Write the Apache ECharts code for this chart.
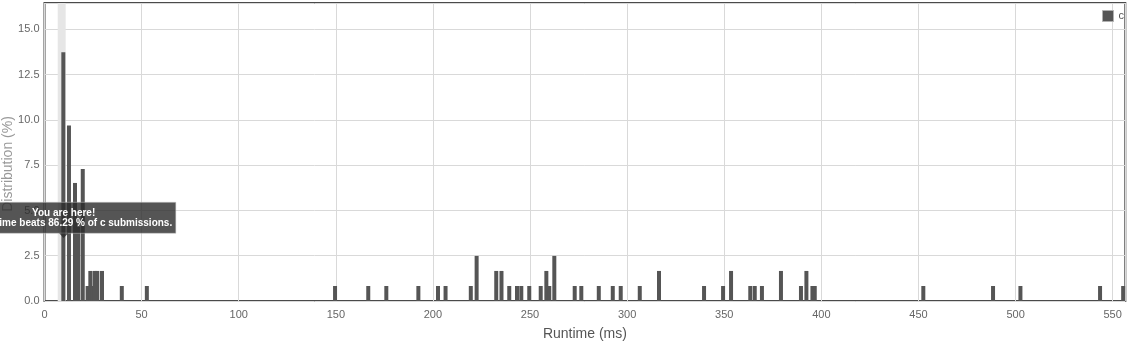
<!DOCTYPE html>
<html>
<head>
<meta charset="utf-8">
<script src="https://cdn.jsdelivr.net/npm/echarts@6/dist/echarts.min.js"></script>
<style>
html,body{margin:0;padding:0;background:#fff;}
#chart{width:1129px;height:342px;}
</style>
</head>
<body>
<div id="chart"></div>
<script>
const seriesName = 'c';
const runtimes = [9.7, 12.6, 15.7, 17.4, 19.7, 22.2, 23.6, 24.8, 25.8, 27.2, 29.6, 39.8, 52.7,
  149.6, 166.7, 176.0, 192.5, 202.6, 206.5, 219.5, 222.5, 232.6, 235.3, 239.3, 243.3, 245.5,
  249.6, 255.5, 258.4, 259.9, 262.5, 273.0, 276.4, 285.4, 292.6, 296.7, 306.5, 316.4, 339.6,
  349.4, 353.5, 363.4, 365.7, 369.4, 379.2, 389.5, 392.3, 395.4, 396.6, 452.5, 488.4, 502.5,
  543.5, 555.4];
const distribution = [13.74, 9.7, 6.52, 4.1, 7.29, 0.83, 1.66, 0.83, 1.66, 1.66, 1.66, 0.83, 0.83,
  0.83, 0.83, 0.83, 0.83, 0.83, 0.83, 0.83, 2.49, 1.66, 1.66, 0.83, 0.83, 0.83,
  0.83, 0.83, 1.66, 0.83, 2.49, 0.83, 0.83, 0.83, 0.83, 0.83, 0.83, 1.66, 0.83,
  0.83, 1.66, 0.83, 0.83, 0.83, 1.66, 0.83, 1.66, 0.83, 0.83, 0.83, 0.83, 0.83,
  0.83, 0.83];
const yTickLabels = ['0.0', '2.5', '5.0', '7.5', '10.0', '12.5', '15.0'];
const xTickLabels = ['0', '50', '100', '150', '200', '250', '300', '350', '400', '450', '500', '550'];
const youAreHere = 9.7;          // runtime of the user's bar
const highlightBand = [6.8, 10.9];
const tooltipLines = ['You are here!', 'Your runtime beats 86.29 % of c submissions.'];

const FONT = '"Liberation Sans", Arial, sans-serif';
const chart = echarts.init(document.getElementById('chart'));
const data = runtimes.map((r, i) => [r, distribution[i]]);

chart.setOption({
  animation: false,
  textStyle: { fontFamily: FONT },
  grid: {
    left: 44.5, right: 3.7, top: 3, bottom: 41,
    containLabel: false, outerBoundsMode: 'none',
    show: true, borderColor: '#4a4a4a', borderWidth: 2, backgroundColor: 'transparent'
  },
  legend: {
    data: [seriesName], left: 1097, top: 5, padding: 5,
    icon: 'rect', itemWidth: 11, itemHeight: 11, itemGap: 5,
    itemStyle: { borderColor: '#b0b0b0', borderWidth: 1 },
    textStyle: { color: '#555', fontSize: 11, fontFamily: FONT }
  },
  xAxis: {
    type: 'value', min: 0, max: 556.5, interval: 50,
    name: 'Runtime (ms)', nameLocation: 'middle', nameGap: 26, nameMoveOverlap: false,
    nameTextStyle: { color: '#555', fontSize: 14, fontFamily: FONT },
    axisLine: { show: false }, axisTick: { show: false },
    axisLabel: {
      color: '#666', fontSize: 11, margin: 8, showMaxLabel: false, fontFamily: FONT,
      formatter: v => { const i = Math.round(v / 50); return (Math.abs(v - i * 50) < 1e-6 && xTickLabels[i] !== undefined) ? xTickLabels[i] : ''; }
    },
    splitLine: { show: true, lineStyle: { color: '#d9d9d9', width: 1 } }
  },
  yAxis: {
    type: 'value', min: 0, max: 16.46, interval: 2.5,
    name: 'Distribution (%)', nameLocation: 'middle', nameGap: 29, nameRotate: 90, nameMoveOverlap: false,
    nameTextStyle: { color: '#999', fontSize: 14, fontFamily: FONT, padding: [0, 24, 0, 0] },
    axisLine: { show: false }, axisTick: { show: false },
    axisLabel: {
      color: '#666', fontSize: 11, margin: 5, showMaxLabel: false, fontFamily: FONT,
      formatter: v => { const i = Math.round(v / 2.5); return (Math.abs(v - i * 2.5) < 1e-6 && yTickLabels[i] !== undefined) ? yTickLabels[i] : ''; }
    },
    splitLine: { show: true, lineStyle: { color: '#d9d9d9', width: 1 } }
  },
  series: [
    {
      name: 'band', type: 'line', data: [], z: 1, silent: true,
      markArea: {
        silent: true,
        itemStyle: { color: '#e6e6e6' },
        data: [[{ xAxis: highlightBand[0] }, { xAxis: highlightBand[1] }]]
      }
    },
    {
      name: seriesName, type: 'bar', data: data, z: 3,
      barWidth: 4,
      itemStyle: { color: '#555555' }
    }
  ]
});

// "You are here" tooltip anchored to the user's bar
const tip = chart.convertToPixel({ xAxisIndex: 0, yAxisIndex: 0 }, [youAreHere, 3.48]);
const cx = tip[0] + 0.3, ty = tip[1];
const boxW = 224.4, boxH = 31;
chart.setOption({
  graphic: [
    { type: 'rect', z: 100, zlevel: 1, shape: { x: cx - boxW / 2, y: ty - 4.7 - boxH, width: boxW, height: boxH },
      style: { fill: 'rgba(43,43,43,0.8)', stroke: 'rgba(200,200,200,0.5)', lineWidth: 1 } },
    { type: 'polygon', z: 100, zlevel: 1, shape: { points: [[cx - 4.5, ty - 4.7], [cx + 4.5, ty - 4.7], [cx, ty]] },
      style: { fill: 'rgba(43,43,43,0.8)' } },
    { type: 'text', z: 101, zlevel: 1, x: cx, y: ty - 25,
      style: { text: tooltipLines[0], fill: '#fff', font: 'bold 10px ' + FONT, align: 'center', verticalAlign: 'middle' } },
    { type: 'text', z: 101, zlevel: 1, x: cx, y: ty - 14.5,
      style: { text: tooltipLines[1], fill: '#fff', font: 'bold 10px ' + FONT, align: 'center', verticalAlign: 'middle' } }
  ]
});
</script>
</body>
</html>
